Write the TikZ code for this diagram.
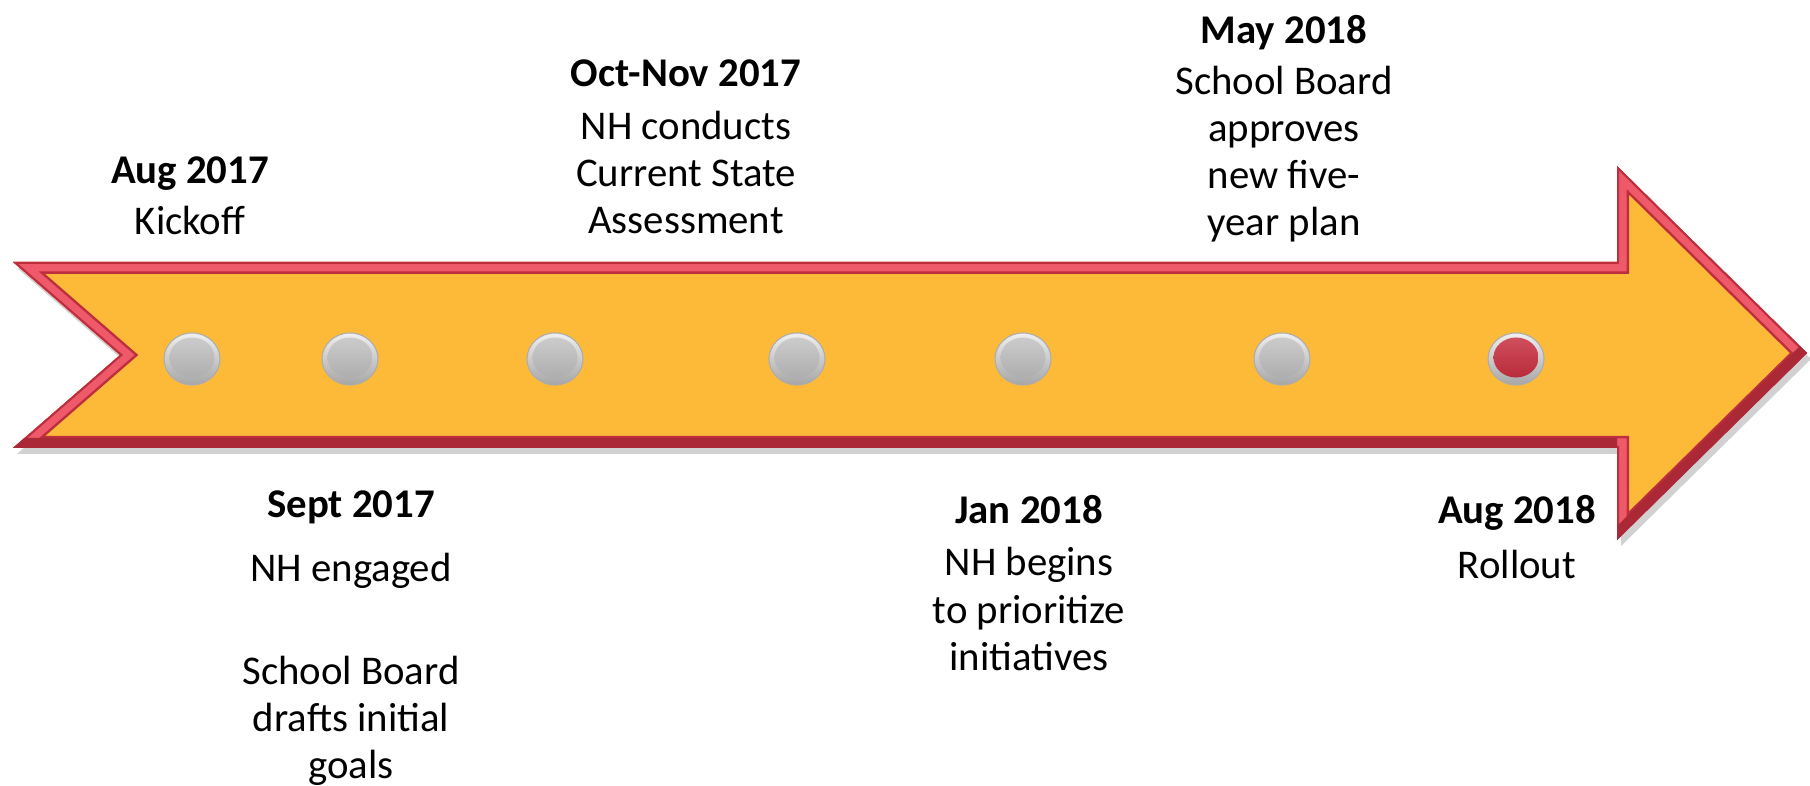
\documentclass[tikz,border=0pt]{standalone}
\usepackage{fontspec}
\setmainfont{Carlito}
\usetikzlibrary{shapes.geometric}
\definecolor{arrowfill}{HTML}{FDBA39}
\definecolor{rimdark}{HTML}{BE2E3D}
\definecolor{rimlight}{HTML}{EE5A69}
\definecolor{knobred}{HTML}{C8283A}
\newcommand{\timelineoutline}{(13,262) -- (1617,262) -- (1617,166) -- (1807,353) -- (1617,540) -- (1617,448) -- (13,448) -- (120,355) -- cycle}
\begin{document}
\begin{tikzpicture}[x=0.01cm,y=-0.01cm,
  event/.style={anchor=north,align=center,inner sep=0pt,font=\fontsize{11.6pt}{13.4pt}\selectfont},
  knob/.style={ellipse,minimum width=0.56cm,minimum height=0.52cm,inner sep=0pt,top color=gray!12,bottom color=gray!70,draw=gray!65,line width=0.3pt,
    path picture={\shade[top color=gray!38,bottom color=gray!68] ([yshift=0.015cm]path picture bounding box.center) ellipse [x radius=0.225cm,y radius=0.2cm];}},
  redknob/.style={knob,path picture={\shade[top color=knobred!80,bottom color=knobred!90!black] ([yshift=0.015cm]path picture bounding box.center) ellipse [x radius=0.225cm,y radius=0.2cm];}}]
\useasboundingbox (0,0) rectangle (1810,786);
\fill[black!18,shift={(4,6)}] \timelineoutline;
\begin{scope}
\clip \timelineoutline;
\fill[arrowfill] \timelineoutline;
\draw[rimdark,line width=0.24cm] \timelineoutline;
\draw[rimlight,line width=0.19cm] \timelineoutline;
\draw[rimdark,line width=0.04cm] \timelineoutline;
\draw[rimdark!90!black,line width=0.2cm] (13,448) -- (1617,448) (1617,540) -- (1807,353);
\end{scope}
\foreach \x/\name in {192/k1,350/k2,555/k3,797/k4,1023/k5,1282/k6}
  \node[knob] (\name) at (\x,359) {};
\node[redknob] (k7) at (1516,359) {};
\node[event] (aug17) at (190,156) {\textbf{Aug 2017}\\[1pt]Kickoff};
\node[event] (sep17) at (351,490) {\textbf{Sept 2017}\\[4.8pt]NH engaged\\[15.9pt]School Board\\drafts initial\\goals};
\node[event] (octnov17) at (686,59) {\textbf{Oct-Nov 2017}\\[1.7pt]NH conducts\\Current State\\Assessment};
\node[event] (jan18) at (1029,495) {\textbf{Jan 2018}\\[1.4pt]NH begins\\to prioritize\\initiatives};
\node[event] (may18) at (1284,15) {\textbf{May 2018}\\[1pt]School Board\\approves\\new five-\\year plan};
\node[event] (aug18) at (1517,495) {\textbf{Aug 2018}\\[2pt]Rollout};
\end{tikzpicture}
\end{document}
